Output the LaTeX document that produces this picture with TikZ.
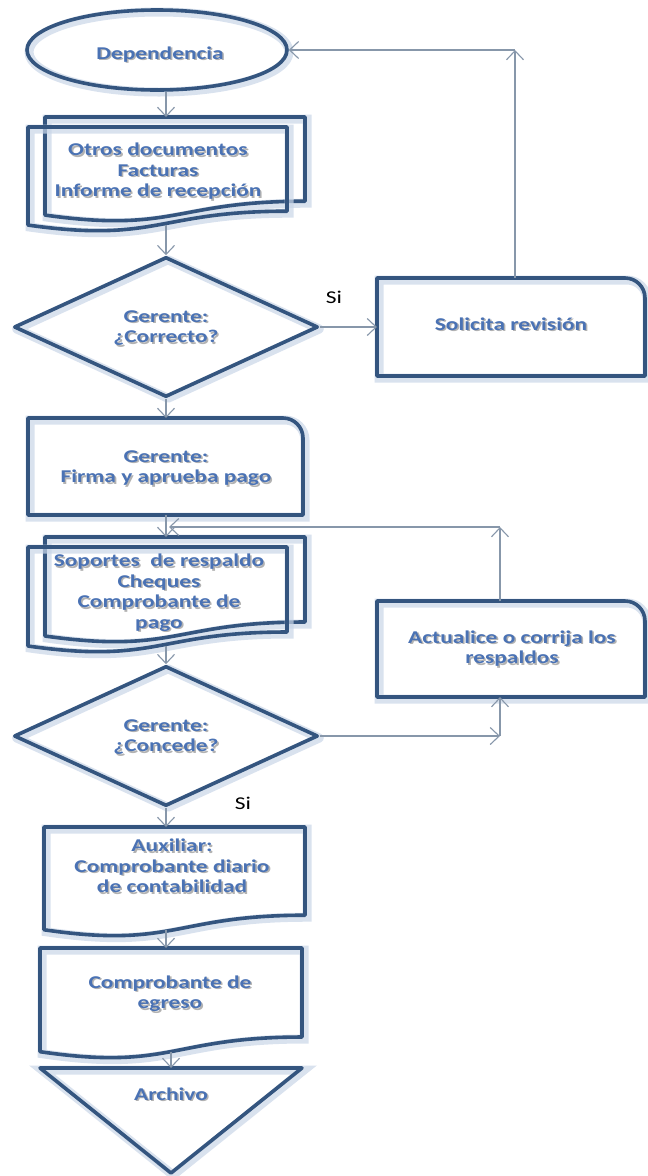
\documentclass[tikz,border=0pt]{standalone}
\usepackage{fontspec}
\usepackage{graphicx}
\setmainfont{Carlito}
\usetikzlibrary{arrows.meta,shapes.geometric,calc}

\definecolor{edge}{HTML}{34557F}
\definecolor{ink}{HTML}{4A72B4}
\definecolor{wire}{HTML}{8797AA}
\definecolor{glow}{HTML}{C9D6E8}

% centred block of lines
\newcommand\lines[1]{\begin{tabular}{@{}c@{}}#1\end{tabular}}
% wide multi-line label with a soft grey shadow under it
\newcommand\wt[1]{\scalebox{1.3}[1]{%
  \makebox[0pt][l]{\raisebox{-1.6pt}{\hspace{1.2pt}\textcolor{black!30}{\lines{#1}}}}%
  \lines{#1}}}

% document symbol with wavy bottom: name, x0, y0, width, height
\newcommand\docshape[5]{%
  \node[area, minimum width=#4pt, minimum height=#5pt] (#1) at ({#2+#4/2},{#3+#5/2}) {};
  \draw[shapeline] (#1.north west) -- (#1.north east) -- ({#2+#4},{#3+0.802*#5})
    .. controls ({#2+0.5*#4},{#3+0.802*#5}) and ({#2+0.5*#4},{#3+1.108*#5}) .. ({#2},{#3+0.934*#5}) -- cycle;
  \coordinate (#1-b) at ({#2+0.5*#4},{#3+0.933*#5});
}

% process box with one rounded corner (top right): name, x0, y0, x1, y1
\newcommand\tabbox[5]{%
  \node[area, minimum width={(#4-#2)*1pt}, minimum height={(#5-#3)*1pt}] (#1) at ({(#2+#4)/2},{(#3+#5)/2}) {};
  \draw[shapeline] (#1.south west) -- (#1.north west) -- ([xshift=-20pt]#1.north east)
    .. controls ([xshift=-9pt]#1.north east) and ([yshift=-9pt]#1.north east) .. ([yshift=-20pt]#1.north east)
    -- (#1.south east) -- cycle;
}

\begin{document}
\begin{tikzpicture}[x=1pt,y=-1pt,
  area/.style={inner sep=0pt, outer sep=0pt},
  shapeline/.style={draw=edge, line width=3.6pt, line join=round,
    preaction={draw=glow, line width=9pt, opacity=0.7, transform canvas={shift={(2pt,-2pt)}}}},
  txt/.style={text=ink, font=\fontsize{18}{20.5}\selectfont\bfseries, inner sep=0pt},
  yes/.style={text=black, font=\fontsize{18}{20}\selectfont, inner sep=0pt},
  conn/.style={draw=wire, line width=1.1pt, -{Straight Barb[length=9pt,width=17pt]}},
  decision/.style={shapeline, diamond, inner sep=0pt, minimum width=304pt, minimum height=140pt}
]
\useasboundingbox (0,0) rectangle (648,1176);
\fill[white] (0,0) rectangle (648,1176);

% start
\node[shapeline, ellipse, inner sep=0pt, minimum width=260pt, minimum height=80pt] (ell) at (157,50) {};
\node[txt] (t-dep) at (160,56) {\wt{Dependencia}};

% incoming documents
\docshape{otrosB}{45}{117}{260}{105}
\docshape{otrosF}{28}{127}{259}{105}
\node[txt] (t-otros) at (158,173) {\wt{Otros documentos\\Facturas\\Informe de recepción}};

% first decision
\node[decision] (dia1) at (166,327) {};
\node[txt] (t-d1) at (166,329) {\wt{Gerente:\\¿Correcto?}};

\tabbox{sol}{377}{278}{645}{376}
\node[txt] (t-sol) at (sol) {\wt{Solicita revisión}};

\tabbox{firma}{28}{418}{303}{515}
\node[txt] (t-fir) at (166,469) {\wt{Gerente:\\Firma y aprueba pago}};

% supporting documents
\docshape{sopB}{45}{537}{260}{106}
\docshape{sopF}{28}{547}{259}{106}
\node[txt] (t-sop) at (159,594) {\wt{Soportes\ \ de respaldo\\Cheques\\Comprobante de\\pago}};

\tabbox{act}{377}{601}{645}{697}
\node[txt] (t-act) at (512,650) {\wt{Actualice o corrija los\\respaldos}};

% second decision
\node[decision] (dia2) at (166,736) {};
\node[txt] (t-d2) at (166,738) {\wt{Gerente:\\¿Concede?}};

\docshape{aux}{44}{827}{261}{110}
\node[txt] (t-aux) at (172,869) {\wt{Auxiliar:\\Comprobante diario\\de contabilidad}};

\docshape{egr}{40}{948}{262}{111}
\node[txt] (t-egr) at (170,995) {\wt{Comprobante de\\egreso}};

% archive
\node[area, minimum width=262pt, minimum height=105pt] (arch) at (171,1120.5) {};
\draw[shapeline] (arch.north west) -- (arch.north east) -- (arch.south) -- cycle;
\node[txt] (t-arc) at (171,1097) {\wt{Archivo}};

% labels on branches
\node[yes] (si1) at (334,297) {\scalebox{1.3}[1]{Si}};
\node[yes] (si2) at (243,803) {\scalebox{1.3}[1]{Si}};

% main flow
\draw[conn] (ell.south -| dia1.north) -- (otrosB.north -| dia1.north);
\draw[conn] (otrosF-b -| dia1.north) -- (dia1.north);
\draw[conn] (dia1.south) -- (firma.north -| dia1.south);
\draw[conn] (firma.south -| dia1.south) -- (sopB.north -| dia1.south);
\draw[conn] (sopF-b -| dia1.north) -- (dia2.north);
\draw[conn] (dia2.south) -- (aux.north -| dia2.south);
\draw[conn] (aux-b -| dia2.south) -- (egr.north -| dia2.south);
\draw[conn] (egr-b) -- (arch.north -| egr-b);

% review loop
\coordinate (k1) at ([xshift=4pt]sol.north |- ell.east);
\draw[conn] (dia1.east) -- (sol.west);
\draw[conn] ([xshift=4pt]sol.north) -- (k1);
\draw[conn] (k1) -- (ell.east);

% correction loop
\coordinate (k2) at (500,527);
\coordinate (k3) at (k2 |- dia2.east);
\draw[conn] (dia2.east) -- (k3);
\draw[conn] (k3) -- (act.south -| k3);
\draw[conn] (act.north -| k2) -- (k2);
\draw[conn, shorten >=3pt] (k2) -- (k2 -| dia1.north);
\end{tikzpicture}
\end{document}
